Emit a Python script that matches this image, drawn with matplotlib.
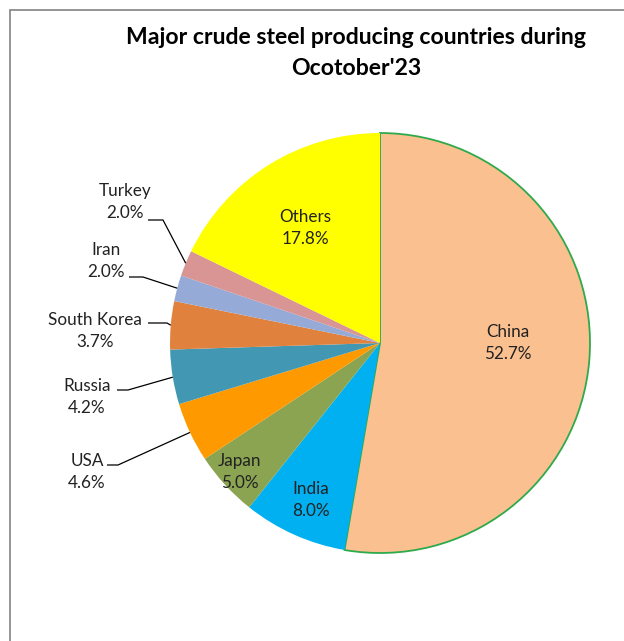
import numpy as np
import matplotlib
matplotlib.use("Agg")
import matplotlib.pyplot as plt
from matplotlib.patches import Rectangle

# data
countries = ['China', 'India', 'Japan', 'USA', 'Russia', 'South Korea', 'Iran', 'Turkey', 'Others']
shares = [52.7, 8.0, 5.0, 4.6, 4.2, 3.7, 2.0, 2.0, 17.8]
colors = ['#FAC090', '#00B0F0', '#8AA452', '#FF9900', '#4298B2',
          '#E0823D', '#95AAD6', '#D99594', '#FFFF00']

W, H = 624, 641
fig = plt.figure(figsize=(W / 100, H / 100), dpi=100)
ax = fig.add_axes([0, 0, 1, 1])

cx, cy, r = 380, H - 343, 210
wedges, _ = ax.pie(shares, colors=colors, startangle=90, counterclock=False,
                   center=(cx, cy), radius=r, frame=True,
                   wedgeprops=dict(linewidth=0, edgecolor='none'))
wedges[0].set_edgecolor('#2EAA4A')
wedges[0].set_linewidth(1.3)

ax.set_xlim(0, W)
ax.set_ylim(0, H)
ax.set_aspect('equal')
ax.axis('off')

# outer border of the chart area
ax.add_patch(Rectangle((10, -20), W + 50, H - 10 + 20, fill=False,
                       edgecolor='#8C8C8C', linewidth=1.3, clip_on=False))

fnt = 'Lato'
ax.text(356, H - 53, "Major crude steel producing countries during\nOcotober'23",
        ha='center', va='center', fontsize=16.6, fontweight='bold',
        family=fnt, color='black', linespacing=1.6)

# label layout: (text center x, text center y) in pixels from top
inner_pos = {'China': (508, 343), 'India': (311, 500), 'Japan': (240, 472),
             'Others': (305, 228)}
outer_pos = {'Turkey': (125, 202, 148, 163, 220),
             'Iran': (106, 261, 129, 143, 277),
             'South Korea': (95, 331, 148, 167, 323),
             'Russia': (87, 397, 117, 128, 390),
             'USA': (87, 472, 107, 118, 465)}

lab_size = 12.3
lab_space = 1.5
theta = 90 - 360 * (np.cumsum(shares) - np.array(shares) / 2) / 100.0
for name, val, th in zip(countries, shares, theta):
    lbl = f"{name}\n{val:.1f}%"
    if name in inner_pos:
        x, y = inner_pos[name]
        ax.text(x, H - y, lbl, ha='center', va='center', fontsize=lab_size,
                family=fnt, color='#222222', linespacing=lab_space)
    else:
        x, y, hx0, hx1, hy = outer_pos[name]
        ax.text(x, H - y, lbl, ha='center', va='center', fontsize=lab_size,
                family=fnt, color='#222222', linespacing=lab_space)
        ex = cx + r * np.cos(np.radians(th))
        ey = cy + r * np.sin(np.radians(th))
        ax.plot([hx0, hx1, ex], [H - hy, H - hy, ey], color='black', lw=0.9,
                solid_capstyle='butt')

fig.savefig('out.png', dpi=100, facecolor='white')
